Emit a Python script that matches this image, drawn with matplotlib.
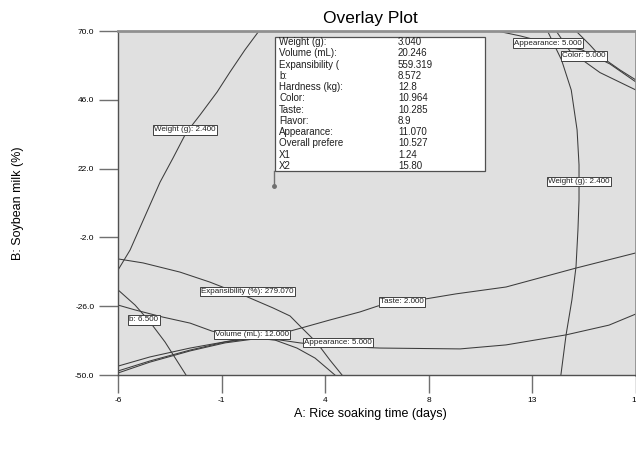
import matplotlib
matplotlib.use("Agg")
import matplotlib.pyplot as plt
from matplotlib.patches import Rectangle

plt.rcParams['font.family'] = ['Liberation Sans', 'DejaVu Sans']

# axis setup
x_ticks = [-6, -1.2, 3.6, 8.4, 13.2, 18]
x_tick_labels = ['-6', '-1', '4', '8', '13', '18']
y_ticks = [-50, -26, -2, 22, 46, 70]
y_tick_labels = ['-50.0', '-26.0', '-2.0', '22.0', '46.0', '70.0']

# contour lines (x = rice soaking time, y = soybean milk)
weight_left_x = [-6.00, -5.44, -4.89, -4.42, -4.05, -3.45, -2.85, -2.20, -1.41, -0.81, -0.12, 0.53]
weight_left_y = [-13.4, -6.4, 3.0, 11.0, 17.3, 25.7, 34.4, 40.7, 48.7, 55.7, 63.4, 70.0]

weight_right_x = [13.90, 14.55, 15.00, 15.27, 15.36, 15.36, 15.31, 15.22, 15.03, 14.76, 14.52]
weight_right_y = [70.0, 59.9, 49.4, 35.5, 23.3, 11.0, 0.6, -12.3, -23.8, -36.0, -50.0]

expans_x = [-6.0, -4.84, -3.13, -1.74, -0.21, 1.18, 1.97, 2.43, 3.22, 3.82, 4.38]
expans_y = [-9.5, -10.9, -14.1, -17.6, -22.1, -26.6, -29.4, -32.9, -38.8, -44.8, -50.0]

taste_x = [-6.0, -4.52, -2.66, -0.81, 0.58, 1.97, 3.82, 5.21, 6.05, 8.22, 9.66, 11.98, 15.22, 18.0]
taste_y = [-46.9, -43.7, -40.6, -38.1, -36.7, -34.7, -30.8, -28.0, -25.9, -23.5, -21.7, -19.3, -12.7, -7.4]

volume_x = [-6.0, -4.52, -2.66, -1.04, 0.35, 1.27, 2.29, 3.13, 4.05]
volume_y = [-48.6, -45.1, -41.3, -38.5, -37.1, -37.8, -40.6, -44.1, -50.0]

appear_low_x = [-6.0, -4.52, -2.66, -1.04, 0.35, 1.51, 2.43, 3.82, 6.14, 9.85, 11.98, 14.76, 16.75, 18.0]
appear_low_y = [-49.3, -45.5, -41.6, -38.8, -37.4, -37.8, -38.8, -39.9, -40.6, -40.9, -39.5, -36.0, -32.6, -28.7]

b_x = [-6.0, -5.21, -3.92, -2.66, -1.64, -0.35, 0.35]
b_y = [-25.6, -27.3, -29.8, -31.9, -34.7, -36.4, -37.1]

other_x = [-6.0, -5.21, -4.52, -3.82, -2.85]
other_y = [-20.3, -25.6, -31.5, -38.5, -50.0]

appear_up_x = [11.56, 12.63, 13.92, 15.50, 16.79, 18.0]
appear_up_y = [70.0, 68.3, 65.8, 63.4, 58.5, 52.2]

color_x = [15.22, 15.87, 16.33, 17.26, 18.0]
color_y = [70.0, 65.1, 61.3, 56.4, 52.9]

extra_x = [14.30, 14.94, 16.33, 18.0]
extra_y = [70.0, 63.0, 55.5, 49.4]

contours = [
    (weight_left_x, weight_left_y), (weight_right_x, weight_right_y),
    (expans_x, expans_y), (taste_x, taste_y), (volume_x, volume_y),
    (appear_low_x, appear_low_y), (b_x, b_y), (other_x, other_y),
    (appear_up_x, appear_up_y), (color_x, color_y), (extra_x, extra_y),
]

# contour labels
label_texts = ['Weight (g): 2.400', 'Weight (g): 2.400', 'Expansibility (%): 279.070',
               'Taste: 2.000', 'Volume (mL): 12.000', 'Appearance: 5.000', 'b: 6.500',
               'Appearance: 5.000', 'Color: 5.000']
label_x = [-2.90, 15.36, -0.02, 7.16, 0.20, 4.19, -4.80, 13.92, 15.59]
label_y = [35.5, 17.5, -20.9, -24.5, -35.8, -38.7, -30.8, 65.8, 61.3]

# flag point
flag_x = 1.24
flag_y = 15.80
flag_names = ['Weight (g):', 'Volume (mL):', 'Expansibility (', 'b:', 'Hardness (kg):',
              'Color:', 'Taste:', 'Flavor:', 'Appearance:', 'Overall prefere', 'X1', 'X2']
flag_values = ['3.040', '20.246', '559.319', '8.572', '12.8', '10.964', '10.285',
               '8.9', '11.070', '10.527', '1.24', '15.80']

W, H = 636, 451
fig = plt.figure(figsize=(W / 100, H / 100), dpi=100)
ax = fig.add_axes([118 / W, 1 - 375 / H, (636 - 118) / W, (375 - 31) / H])
ax.set_facecolor('#e0e0e0')

for cx, cy in contours:
    ax.plot(cx, cy, color='#3c3c3c', lw=0.75)

for t, lx, ly in zip(label_texts, label_x, label_y):
    ax.text(lx, ly, t, fontsize=5.8, ha='center', va='center', color='#202020',
            bbox=dict(boxstyle='square,pad=0.15', fc='white', ec='#404040', lw=0.7))

ax.set_xlim(-6, 18)
ax.set_ylim(-50, 70)
ax.set_xticks(x_ticks)
ax.set_xticklabels(x_tick_labels)
ax.set_yticks(y_ticks)
ax.set_yticklabels(y_tick_labels)
ax.tick_params(axis='x', length=13, width=1.0, color='#707070', labelsize=6, pad=3)
ax.tick_params(axis='y', length=14, width=1.0, color='#707070', labelsize=6, pad=3)

for s in ['top', 'right']:
    ax.spines[s].set_color('#909090')
    ax.spines[s].set_linewidth(2)
for s in ['left', 'bottom']:
    ax.spines[s].set_color('#505050')
    ax.spines[s].set_linewidth(1.0)

# flag and info box
ax.plot([flag_x, flag_x], [flag_y, 21.2], color='#707070', lw=1.0)
ax.plot([flag_x], [flag_y], marker='o', ms=2.5, color='#707070')
ax.add_patch(Rectangle((1.27, 21.2), 9.73, 46.7, fc='white', ec='#505050', lw=0.9, zorder=5))

def px(x, y):
    return x / W, 1 - y / H

for i, (n, v) in enumerate(zip(flag_names, flag_values)):
    yy = 42 + i * 11.27
    fig.text(*px(279, yy), n, fontsize=7, va='center', ha='left', color='#202020', zorder=6)
    fig.text(*px(398, yy), v, fontsize=7, va='center', ha='left', color='#202020', zorder=6)

fig.text(*px(370, 18), 'Overlay Plot', fontsize=12.5, ha='center', va='center')
fig.text(*px(370, 414), 'A: Rice soaking time (days)', fontsize=9, ha='center', va='center')
fig.text(*px(18, 203), 'B: Soybean milk (%)', fontsize=9, ha='center', va='center', rotation=90)

fig.savefig('out.png', dpi=100)
